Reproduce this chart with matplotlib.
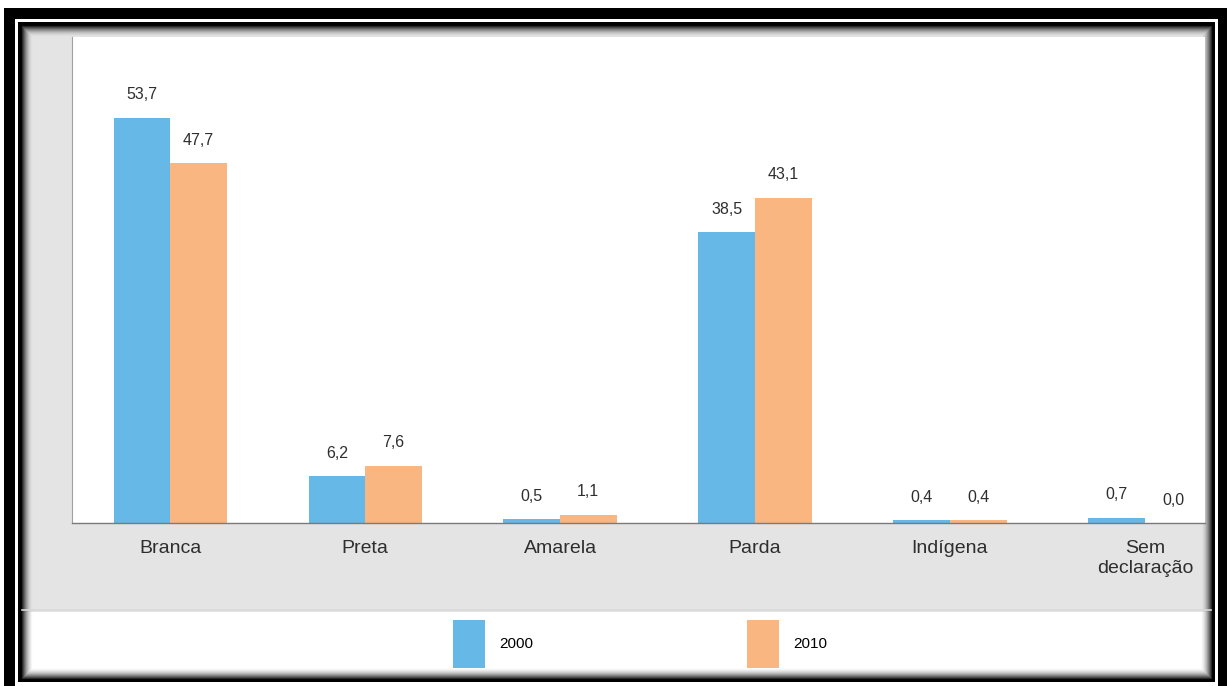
import matplotlib.pyplot as plt
from matplotlib.patches import Rectangle, Patch
import numpy as np

categorias = ['Branca', 'Preta', 'Amarela', 'Parda', 'Indígena', 'Sem\ndeclaração']
anos = ['2000', '2010']
valores_2000 = [53.7, 6.2, 0.5, 38.5, 0.4, 0.7]
valores_2010 = [47.7, 7.6, 1.1, 43.1, 0.4, 0.0]

cor_2000 = '#66b8e6'
cor_2010 = '#fab680'
cor_texto = '#2e2e2e'
fonte = ['Liberation Sans', 'DejaVu Sans']

W, H = 1227, 686
fig = plt.figure(figsize=(W / 100, H / 100), dpi=100)
fig.patch.set_facecolor('white')

# moldura em coordenadas de pixel
bg = fig.add_axes([0, 0, 1, 1], zorder=0)
bg.set_xlim(0, W)
bg.set_ylim(H, 0)
bg.axis('off')

bg.add_patch(Rectangle((4, 8), 1300, 800, facecolor='black', edgecolor='none'))
bg.add_patch(Rectangle((15, 19), 1218 - 15, 800, facecolor='white', edgecolor='none'))
bg.add_patch(Rectangle((18, 22), 1215 - 18, 682 - 22, facecolor='black', edgecolor='none'))
bg.add_patch(Rectangle((22, 26), 1211 - 22, 678 - 26, facecolor='#e4e4e4', edgecolor='none'))
# faixa da legenda
bg.add_patch(Rectangle((22, 612), 1211 - 22, 678 - 612, facecolor='white', edgecolor='none'))
bg.plot([22, 1211], [610, 610], color='#d8d8d8', lw=1.2)

# sombra interna
for k in range(10):
    g = 0.15 + 0.075 * k
    bg.add_patch(Rectangle((22 + k, 26 + k), 1189 - 2 * k, 652 - 2 * k,
                           facecolor='none', edgecolor=(g, g, g), lw=0.9,
                           alpha=1 - k / 11))

# grafico de barras
ax = fig.add_axes([72 / W, 1 - 523 / H, (1205 - 72) / W, (523 - 37) / H], zorder=2)
ax.set_facecolor('white')
x = np.arange(len(categorias))
largura = 0.29
b1 = ax.bar(x - largura / 2, valores_2000, largura, color=cor_2000, label=anos[0])
b2 = ax.bar(x + largura / 2, valores_2010, largura, color=cor_2010, label=anos[1])

for barras in (b1, b2):
    ax.bar_label(barras, labels=[f'{v:.1f}'.replace('.', ',') for v in barras.datavalues],
                 padding=11, fontsize=11.5, color=cor_texto, family=fonte)

ax.set_xlim(-0.503, 5.308)
ax.set_ylim(0, 64.4)
ax.set_yticks([])
ax.set_xticks(x)
ax.set_xticklabels(categorias, fontsize=14, color=cor_texto, family=fonte,
                   linespacing=1.25)
ax.tick_params(axis='x', length=0, pad=12)
for lado in ('top', 'right'):
    ax.spines[lado].set_visible(False)
ax.spines['bottom'].set_color('#7a7a7a')
ax.spines['bottom'].set_linewidth(1.0)
ax.spines['left'].set_color('#a0a0a0')
ax.spines['left'].set_linewidth(0.8)

handles = [Patch(facecolor=cor_2000), Patch(facecolor=cor_2010)]
fig.legend(handles, anos, loc='center', bbox_to_anchor=(640 / W, 1 - 644 / H),
           ncol=2, frameon=False, handlelength=2.1, handleheight=4.4,
           handletextpad=0.9, columnspacing=14.0,
           prop={'family': fonte, 'size': 11})

fig.savefig('out.png', dpi=100)
